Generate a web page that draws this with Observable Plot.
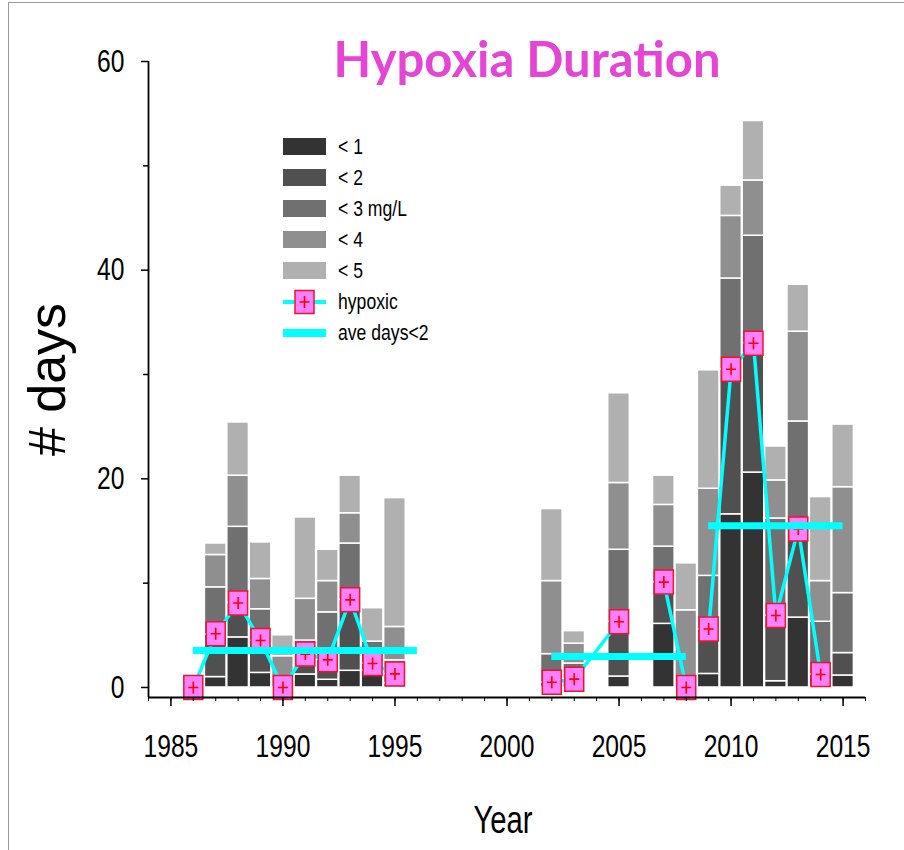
<!DOCTYPE html>
<html><head><meta charset="utf-8">
<script src="https://cdn.jsdelivr.net/npm/d3@7"></script>
<script src="https://cdn.jsdelivr.net/npm/@observablehq/plot@0.6"></script>
<style>
body{margin:0;background:#fff;}
#wrap{position:relative;width:904px;height:850px;overflow:hidden;background:#fff;}
#border{position:absolute;left:8px;top:2px;width:1000px;height:1000px;border-left:1px solid #9a9a9a;border-top:1px solid #9a9a9a;pointer-events:none;}
#legend{position:absolute;left:283px;top:131px;font-family:"Liberation Sans",Arial,sans-serif;font-size:22px;color:#000;}
.row{height:31px;display:flex;align-items:center;}
.sw{width:43px;display:flex;align-items:center;justify-content:center;margin-right:12px;}
.lab{display:inline-block;transform:scaleX(0.8);transform-origin:left center;white-space:nowrap;}
</style></head>
<body><div id="wrap"><div id="border"></div><div id="legend"></div></div>
<script>
// ---- data (cumulative days below each DO threshold) ----
const barYears = [1986,1987,1988,1989,1990,1991,1992,1993,1994,1995,2002,2003,2005,2007,2008,2009,2010,2011,2012,2013,2014,2015];
const lt1 = [0,1.0,4.8,1.4,0,1.25,0.74,1.6,1.6,0.4,0,0,1.05,6.1,0,1.3,16.6,20.6,0.6,6.7,0,1.15];
const lt2 = [0,5.1,8.1,4.5,0,3.2,2.7,8.4,2.3,1.3,0.5,0.8,6.3,10.1,0,5.6,30.5,33.0,6.9,15.2,1.25,3.3];
const lt3 = [0,9.6,15.4,7.5,0,4.5,7.2,13.8,4.4,2.6,3.2,2.3,13.2,13.5,0,10.7,39.2,43.3,16.2,25.5,6.3,9.05];
const lt4 = [0,12.7,20.3,10.4,3.0,8.5,10.2,16.7,4.4,5.8,10.2,4.2,19.6,17.5,7.4,19.05,45.2,48.6,19.85,34.1,10.2,19.2];
const lt5 = [0,13.8,25.4,13.9,5.0,16.3,13.2,20.3,7.6,18.15,17.1,5.4,28.2,20.3,11.9,30.4,48.1,54.3,23.1,38.6,18.25,25.2];
const levels = ["< 1","< 2","< 3 mg/L","< 4","< 5"];
const grays = ["#333333","#505050","#707070","#8f8f8f","#b0b0b0"];

// hypoxic days (null = gap in line)
const hypYears = [1986,1987,1988,1989,1990,1991,1992,1993,1994,1995,2002,2003,2005,2006,2007,2008,2009,2010,2011,2012,2013,2014];
const hypDays  = [0,5.15,8.1,4.5,0,3.2,2.65,8.4,2.3,1.3,0.5,0.8,6.3,null,10.1,0,5.6,30.5,33.0,6.9,15.2,1.25];

// average days<2 per period
const aveStart = [1986,2002,2009];
const aveEnd   = [1996,2008,2015];
const aveDays  = [3.55,2.97,15.5];

const xDomain = [1984,2016];
const yDomain = [-0.96,60];
const xMajor = [1985,1990,1995,2000,2005,2010,2015];
const xMinor = d3.range(1984,2017);
const yMajor = [0,20,40,60];
const yMinor = [10,30,50];

const sans = '"Liberation Sans",Arial,sans-serif';

// ---- build tables ----
const cum = [lt1,lt2,lt3,lt4,lt5];
const segs = [];
barYears.forEach((yr,i)=>{
  let prev = 0;
  cum.forEach((arr,k)=>{
    const v = arr[i];
    if (v > prev) segs.push({year:yr, level:levels[k], y1:prev, y2:v});
    prev = Math.max(prev, v);
  });
});
const hypRows = hypYears.map((yr,i)=>({year:yr, value:hypDays[i], period: d3.max(aveStart.filter(s=>s<=yr))}));
const hypPts = hypRows.filter(d=>d.value!=null);
const aveRows = aveStart.map((s,i)=>({start:s, end:aveEnd[i], value:aveDays[i]}));

const rectSym = {draw(ctx){ ctx.rect(-9.5,-12,19,24); }};
const plusSym = {draw(ctx){ ctx.moveTo(-5,0); ctx.lineTo(5,0); ctx.moveTo(0,-6); ctx.lineTo(0,6); }};

const chart = Plot.plot({
  width:904, height:850,
  marginLeft:148, marginRight:39, marginTop:61, marginBottom:153,
  x:{domain:xDomain, label:null},
  y:{domain:yDomain, label:null},
  color:{domain:levels, range:grays},
  style:{fontFamily:sans, color:"#000", background:"transparent"},
  marks:[
    Plot.rect(segs,{x1:d=>d.year-0.5, x2:d=>d.year+0.5, y1:"y1", y2:"y2", fill:"level", stroke:"#fff", strokeWidth:1.5, insetLeft:0.4, insetRight:0.4}),
    Plot.line(hypRows,{x:"year", y:"value", z:"period", stroke:"#00ffff", strokeWidth:3.5}),
    Plot.dot(hypPts,{x:"year", y:"value", r:5, symbol:rectSym, fill:"#ff80ff", stroke:"#f0142a", strokeWidth:1.5}),
    Plot.dot(hypPts,{x:"year", y:"value", r:5, symbol:plusSym, fill:"none", stroke:"#ff0000", strokeWidth:1.6}),
    Plot.ruleY(aveRows,{x1:"start", x2:"end", y:"value", stroke:"#00ffff", strokeWidth:7}),
    Plot.ruleX([xDomain[0]],{y1:yDomain[0], y2:yMajor[yMajor.length-1], stroke:"#000", strokeWidth:1.8}),
    Plot.ruleY([yDomain[0]],{stroke:"#000", strokeWidth:1.8}),
    Plot.axisY({ticks:yMajor, tickSize:7, tickPadding:17, fontSize:32, label:null, strokeWidth:1.5}),
    Plot.axisY({ticks:yMinor, tickSize:5, tickFormat:()=>"", label:null, strokeWidth:1.5}),
    Plot.axisX({ticks:xMajor, tickSize:9, tickPadding:28, fontSize:32, tickFormat:d=>String(d), label:null, strokeWidth:1.5}),
    Plot.axisX({ticks:xMinor, tickSize:4, tickFormat:()=>"", label:null, strokeWidth:1}),
    Plot.text(["# days"],{frameAnchor:"left", dx:-100, rotate:-90, textAnchor:"middle", lineAnchor:"middle", fontSize:52, fill:"#000"}),
    Plot.text(["Year"],{frameAnchor:"bottom", dx:-4, dy:123, lineAnchor:"middle", fontSize:38, fill:"#000"}),
    Plot.text(["Hypoxia Duration"],{frameAnchor:"top", dx:20, dy:0, lineAnchor:"middle", fontSize:49, fontWeight:"bold", fill:"#e545d5", fontFamily:"Lato"})
  ]
});
const wrap = document.getElementById("wrap");
wrap.insertBefore(chart, wrap.firstChild);
chart.style.position="absolute"; chart.style.left="0"; chart.style.top="0";

// condense axis-style text (narrow face like the original)
chart.querySelectorAll("text").forEach(t=>{
  const s = t.textContent;
  if (!s || s==="Hypoxia Duration" || s==="# days") return;
  const w = t.getComputedTextLength();
  if (w>0){ t.setAttribute("textLength", (w*0.77).toFixed(1)); t.setAttribute("lengthAdjust","spacingAndGlyphs"); }
});

// ---- legend ----
const leg = document.getElementById("legend");
levels.forEach((lab,k)=>{
  const r = document.createElement("div"); r.className="row";
  r.innerHTML = `<div class="sw"><div style="width:43px;height:17px;background:${grays[k]}"></div></div><span class="lab">${lab}</span>`;
  leg.appendChild(r);
});
const extra = [
  {label:"hypoxic", svg:`<svg width="43" height="26"><line x1="0" x2="43" y1="13" y2="13" stroke="#00ffff" stroke-width="4"/><rect x="12" y="1.5" width="19" height="23" fill="#ff80ff" stroke="#f0142a" stroke-width="1.5"/><path d="M16.5 13h10M21.5 7v12" stroke="#ff0000" stroke-width="1.6"/></svg>`},
  {label:"ave days<2", svg:`<svg width="43" height="10"><rect x="0" y="1" width="43" height="8" fill="#00ffff"/></svg>`}
];
extra.forEach(e=>{
  const r = document.createElement("div"); r.className="row";
  r.innerHTML = `<div class="sw">${e.svg}</div><span class="lab">${e.label}</span>`;
  leg.appendChild(r);
});
</script></body></html>
